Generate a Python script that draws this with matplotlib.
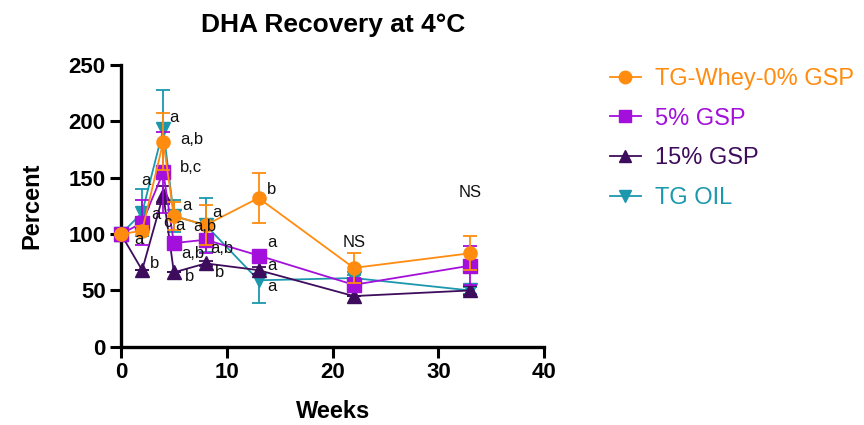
import matplotlib
matplotlib.use("Agg")
import matplotlib.pyplot as plt
from matplotlib.lines import Line2D

plt.rcParams['font.family'] = ['Liberation Sans', 'DejaVu Sans']

weeks = [0, 2, 4, 5, 8, 13, 22, 33]

whey = [100, 103, 182, 116, 108, 132, 70, 83]
whey_err = [0, 4, 25, 12.5, 18, 22.5, 13, 15]

gsp5 = [100, 110, 155, 92, 95, 81, 55, 72]
gsp5_err = [0, 20, 36, 4, 12, 4, 6, 17]

gsp15 = [100, 68, 135, 66, 74, 68, 45, 50]
gsp15_err = [0, 0, 8, 0, 2, 3, 0, 4]

tg_oil = [100, 119, 193, 116, 108, 59, 61, 50]
tg_oil_err = [0, 21, 35, 14, 24, 20, 3, 3]

series_names = ["TG-Whey-0% GSP", "5% GSP", "15% GSP", "TG OIL"]
colors = ["#FF8C0F", "#A30FDB", "#3E0C5C", "#1B98AE"]
markers = ["o", "s", "^", "v"]

# significance letters: (week, percent, text)
letters = [
    (4.6, 203, "a"), (5.6, 184, "a,b"), (5.6, 159, "b,c"),
    (1.95, 147.5, "a"), (2.9, 117, "a"), (1.25, 95.5, "a"), (2.75, 74, "b"),
    (5.8, 125, "a"), (4.0, 110, "c"), (5.1, 108, "a"), (5.7, 83, "a,b"), (6.0, 62, "b"),
    (8.6, 119, "a"), (6.8, 106.5, "a,b"), (8.4, 87.5, "a,b"), (8.9, 66, "b"),
    (13.8, 140, "b"), (13.8, 92.5, "a"), (13.8, 72.5, "a"), (13.8, 53.5, "a"),
    (22.0, 92.5, "NS"), (33.0, 136.5, "NS"),
]

fig = plt.figure(figsize=(8.64, 4.25), dpi=100)
ax = fig.add_axes([0.140, 0.184, 0.490, 0.663])

data = [(whey, whey_err), (gsp5, gsp5_err), (gsp15, gsp15_err), (tg_oil, tg_oil_err)]
for i, ((vals, errs), name, c, m) in enumerate(zip(data, series_names, colors, markers)):
    ax.errorbar(weeks, vals, yerr=errs, color=c, marker=m, markersize=9.5,
                linewidth=1.3, elinewidth=1.3, capsize=5, capthick=1.3,
                label=name, zorder=10 - i, clip_on=False)

for x, y, t in letters:
    ax.text(x, y, t, fontsize=12, ha="left" if t != "NS" else "center",
            va="center", color="#111111", zorder=20)

ax.set_xlim(0, 40)
ax.set_ylim(0, 250)
ax.set_xticks([0, 10, 20, 30, 40])
ax.set_yticks([0, 50, 100, 150, 200, 250])
for s in ["top", "right"]:
    ax.spines[s].set_visible(False)
for s in ["left", "bottom"]:
    ax.spines[s].set_linewidth(2.4)
ax.tick_params(axis="both", length=8, width=2.2, labelsize=16, pad=3)
for lab in ax.get_xticklabels() + ax.get_yticklabels():
    lab.set_fontweight("bold")

ax.set_xlabel("Weeks", fontsize=17, fontweight="bold", labelpad=12)
ax.set_ylabel("Percent", fontsize=17, fontweight="bold", labelpad=18)
ax.set_title("DHA Recovery at 4\u00b0C", fontsize=19, fontweight="bold", pad=24)

handles = [Line2D([], [], color=c, marker=m, markersize=9, linewidth=1.3)
           for c, m in zip(colors, markers)]
leg = fig.legend(handles=handles, labels=series_names, loc="upper left",
                 bbox_to_anchor=(0.706, 0.84), frameon=False, fontsize=17,
                 borderpad=0, borderaxespad=0,
                 handlelength=1.3, handletextpad=0.6, labelspacing=0.75)
for txt, c in zip(leg.get_texts(), colors):
    txt.set_color(c)

fig.savefig("out.png", dpi=100)
